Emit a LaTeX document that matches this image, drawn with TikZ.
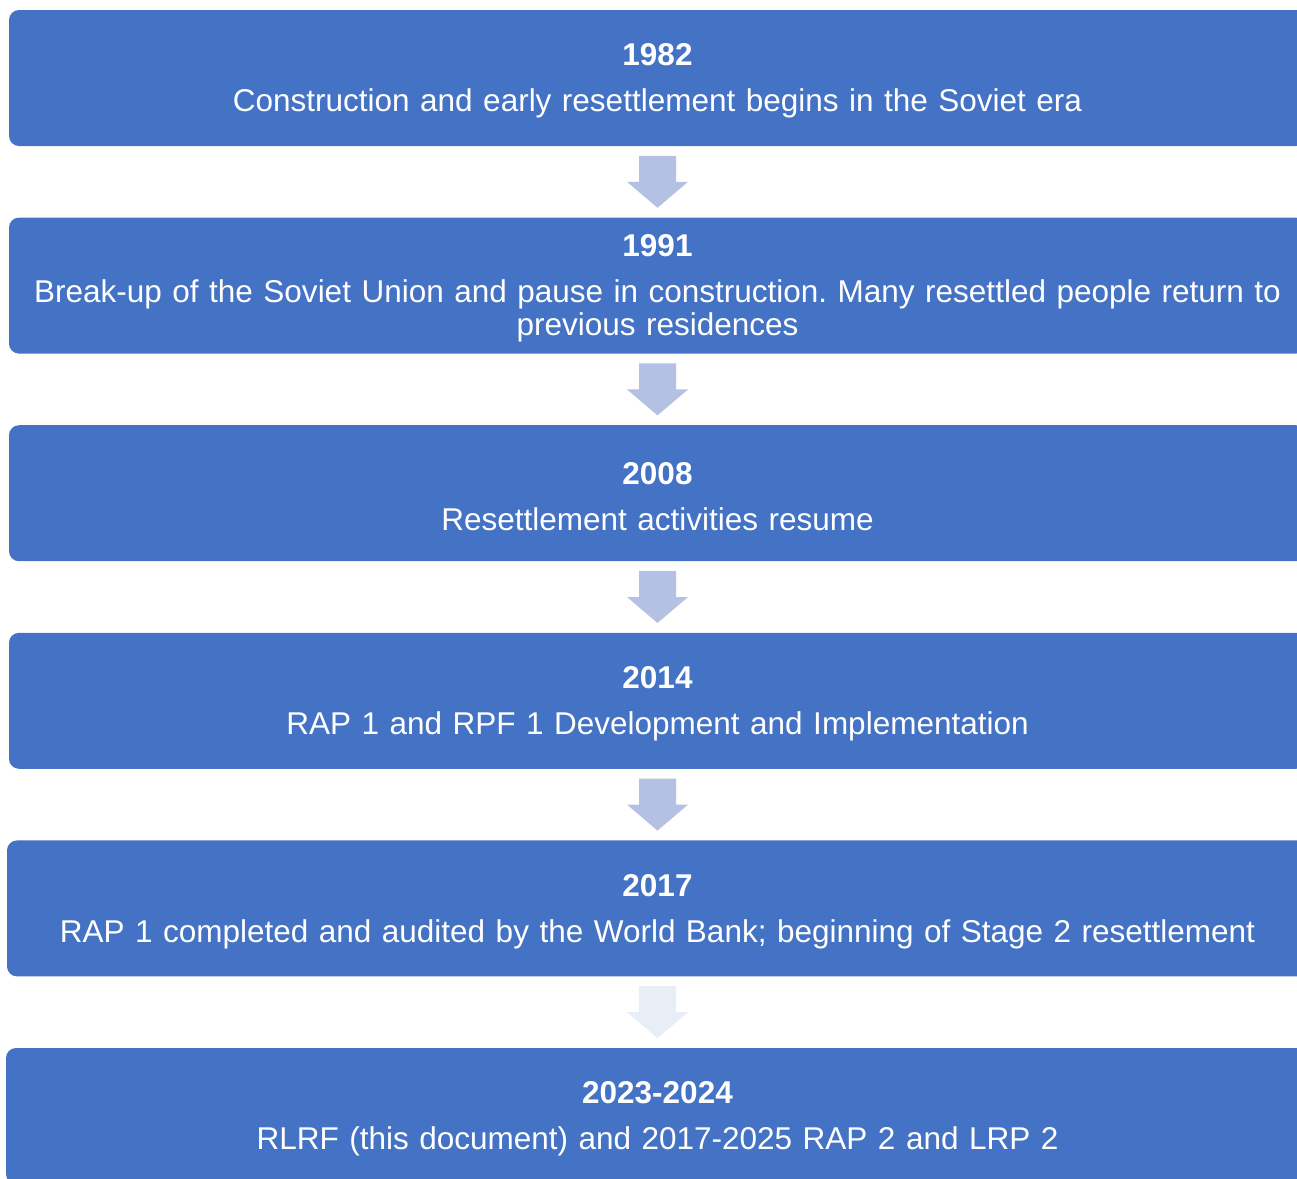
\documentclass[tikz,border=0pt]{standalone}
\usepackage{fontspec}
\setmainfont{Liberation Sans}
\usetikzlibrary{positioning,calc}

\definecolor{boxblue}{RGB}{68,114,196}
\definecolor{arrowblue}{RGB}{180,193,226}
\definecolor{arrowpale}{RGB}{232,238,246}

% year heading of a box, with a strut to push the block down a little
\newcommand\eventyear[1]{\rule{0pt}{28pt}\textbf{#1}\\[13pt]}

\begin{document}
\frenchspacing
\begin{tikzpicture}[x=1pt,y=1pt,node distance=71.6pt,
                event/.style={rectangle,rounded corners=10pt,fill=boxblue,text=white,
                  minimum width=1297pt,minimum height=136pt,text width=1290pt,align=center,
                  inner sep=0pt,outer sep=0pt,font=\fontsize{31.5}{33}\selectfont}]

  \useasboundingbox (0,0) rectangle (1297,-1178);
  \clip (0,0) rectangle (1297,-1178);

  \node[event] (y1982) at (657.5,-78) {\eventyear{1982}Construction and early resettlement begins in the Soviet era};
  \node[event] (y1991) [below=of y1982] {\eventyear{1991}Break-up of the Soviet Union and pause in construction. Many resettled people return to\\previous residences};
  \node[event] (y2008) [below=of y1991] {\eventyear{2008}Resettlement activities resume};
  \node[event] (y2014) [below=of y2008] {\eventyear{2014}RAP 1 and RPF 1 Development and Implementation};
  \node[event,minimum width=1301pt] (y2017) [below=of y2014] {\eventyear{2017}RAP 1 completed and audited by the World Bank; beginning of Stage 2 resettlement};
  \node[event,minimum width=1303pt] (y2023) [below=of y2017] {\eventyear{2023-2024}RLRF (this document) and 2017-2025 RAP 2 and LRP 2};

  % block arrows between the years
  \foreach \a/\b/\c in {y1982/y1991/arrowblue, y1991/y2008/arrowblue, y2008/y2014/arrowblue,
                        y2014/y2017/arrowblue, y2017/y2023/arrowpale}
    \fill[\c] ($(\a.south)!.5!(\b.north)$) ++(-18.5,26) -- ++(37,0) -- ++(0,-26) -- ++(12,0)
      -- ++(-30.5,-26) -- ++(-30.5,26) -- ++(12,0) -- cycle;
\end{tikzpicture}
\end{document}
